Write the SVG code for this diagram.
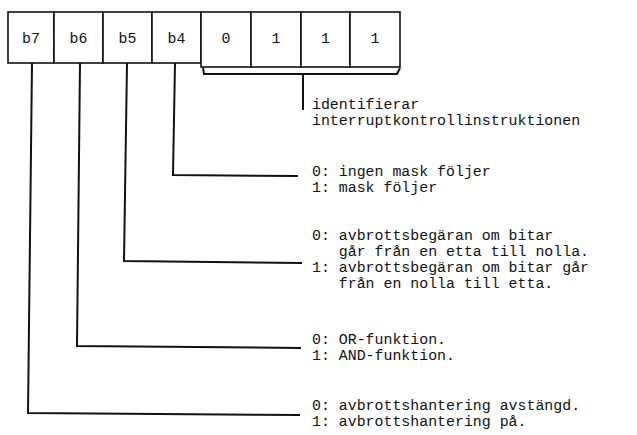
<svg xmlns="http://www.w3.org/2000/svg" width="637" height="435" viewBox="0 0 637 435">
<style>
.box{fill:#fff;stroke:#111;stroke-width:1.6}
.wire{fill:none;stroke:#111;stroke-width:2;stroke-linejoin:miter}
text{font-family:"Liberation Mono","DejaVu Sans Mono",monospace;font-size:14.9px;fill:#111}
.c{text-anchor:middle}
</style>
<rect width="637" height="435" fill="#fff"/>
<g id="b7"><rect class="box" x="8" y="12" width="46" height="51"/><text class="c" x="31" y="43">b7</text></g>
<g id="b6"><rect class="box" x="54" y="12" width="49" height="51"/><text class="c" x="78.5" y="43">b6</text></g>
<g id="b5"><rect class="box" x="103" y="12" width="49" height="51"/><text class="c" x="127.5" y="43">b5</text></g>
<g id="b4"><rect class="box" x="152" y="12" width="49" height="51"/><text class="c" x="176.5" y="43">b4</text></g>
<g id="bit3"><rect class="box" x="201" y="12" width="50" height="55"/><text class="c" x="226" y="43">0</text></g>
<g id="bit2"><rect class="box" x="251" y="12" width="50" height="55"/><text class="c" x="276" y="43">1</text></g>
<g id="bit1"><rect class="box" x="301" y="12" width="49" height="55"/><text class="c" x="325.5" y="43">1</text></g>
<g id="bit0"><rect class="box" x="350" y="12" width="50" height="55"/><text class="c" x="375" y="43">1</text></g>
<g id="connectors">
<path class="wire" d="M203 68 L204 74 L397 74 L400 68"/>
<path class="wire" d="M303 74 L303 110"/>
<path class="wire" d="M175 63 L173 175 L298 176"/>
<path class="wire" d="M127 63 L124 261 L302 263"/>
<path class="wire" d="M80 63 L77 346 L301 348"/>
<path class="wire" d="M32 63 L28 413 L300 415"/>
</g>
<g id="desc-id">
<text x="312" y="109">identifierar</text>
<text x="312" y="125">interruptkontrollinstruktionen</text>
</g>
<g id="desc-b4">
<text x="312" y="176">0: ingen mask följer</text>
<text x="312" y="192">1: mask följer</text>
</g>
<g id="desc-b5">
<text x="312" y="240">0: avbrottsbegäran om bitar</text>
<text x="338.8" y="256">går från en etta till nolla.</text>
<text x="312" y="272">1: avbrottsbegäran om bitar går</text>
<text x="338.8" y="288">från en nolla till etta.</text>
</g>
<g id="desc-b6">
<text x="312" y="344">0: OR-funktion.</text>
<text x="312" y="360">1: AND-funktion.</text>
</g>
<g id="desc-b7">
<text x="312" y="410">0: avbrottshantering avstängd.</text>
<text x="312" y="426">1: avbrottshantering på.</text>
</g>
</svg>
